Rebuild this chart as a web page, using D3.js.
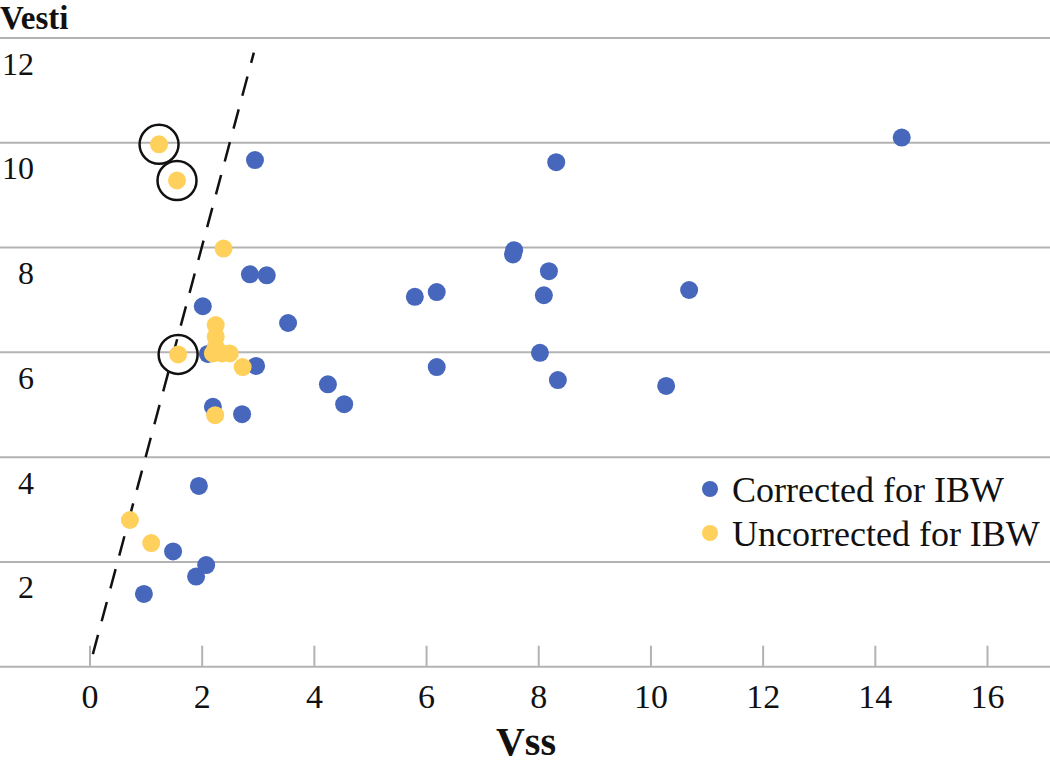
<!DOCTYPE html>
<html>
<head>
<meta charset="utf-8">
<script src="https://cdn.jsdelivr.net/npm/d3@7"></script>
<style>
  html, body { margin: 0; padding: 0; background: #fff; }
  svg { display: block; }
</style>
</head>
<body>
<svg id="chart" width="1050" height="764"></svg>
<script>
// ---- data ----
const xTicks = [0, 2, 4, 6, 8, 10, 12, 14, 16];
const yTicks = [2, 4, 6, 8, 10, 12];
const gridValues = [0, 2, 4, 6, 8, 10, 12];

const correctedX = [0.97, 1.49, 1.90, 2.08, 1.95, 2.20, 2.72, 2.11, 2.97, 2.02, 3.54, 2.86, 3.16, 2.95,
                    8.32, 7.57, 7.55, 8.19, 5.80, 6.19, 8.10, 10.69, 8.03, 6.19, 8.35, 10.28, 4.25, 4.54, 14.48];
const correctedY = [1.39, 2.20, 1.72, 1.94, 3.45, 4.96, 4.82, 5.97, 5.74, 6.88, 6.56, 7.49, 7.47, 9.67,
                    9.63, 7.95, 7.87, 7.55, 7.06, 7.15, 7.09, 7.19, 5.99, 5.72, 5.47, 5.36, 5.39, 5.01, 10.10];

const uncorrectedX = [1.24, 1.56, 2.39, 1.58, 2.25, 2.25, 2.25, 2.20, 2.36, 2.50, 2.73, 2.24, 0.72, 1.10];
const uncorrectedY = [9.97, 9.28, 7.98, 5.96, 6.52, 6.30, 6.10, 5.98, 5.98, 5.98, 5.72, 4.80, 2.80, 2.36];
const uncorrectedCircled = [true, true, false, true, false, false, false, false, false, false, false, false, false, false];

const refLineX = [0.06, 2.93];
const refLineY = [0.24, 11.72];

const seriesNames = ["Corrected for IBW", "Uncorrected for IBW"];
const seriesColors = ["#4667bb", "#ffd15c"];
const xTitle = "Vss";
const yTitle = "Vesti";

// ---- drawing ----
const svg = d3.select("#chart");
const W = 1050;
const x = d3.scaleLinear().domain([0, 16]).range([89.5, 987]);
const y = d3.scaleLinear().domain([0, 12]).range([666.7, 38]);
const gridColor = "#b3b3b3";
const serif = "'Liberation Serif', 'DejaVu Serif', serif";

// grid lines (including baseline)
svg.append("g").selectAll("line").data(gridValues).join("line")
  .attr("x1", 0).attr("x2", W)
  .attr("y1", d => y(d)).attr("y2", d => y(d))
  .attr("stroke", gridColor).attr("stroke-width", 2);

// x axis tick marks (upward) and labels
const xAxis = d3.axisBottom(x).tickValues(xTicks).tickSize(0).tickPadding(0).tickFormat(d3.format("d"));
const xg = svg.append("g").attr("transform", `translate(0,${y(0)})`).call(xAxis);
xg.select(".domain").remove();
xg.selectAll(".tick").append("line")
  .attr("y1", 0).attr("y2", -21)
  .attr("stroke", gridColor).attr("stroke-width", 2);
xg.selectAll(".tick text")
  .attr("y", 41).attr("dy", 0)
  .attr("font-family", serif).attr("font-size", 34).attr("fill", "#111");

// y axis labels (below their grid lines)
const yAxis = d3.axisLeft(y).tickValues(yTicks).tickSize(0).tickPadding(0).tickFormat(d3.format("d"));
const yg = svg.append("g").attr("transform", "translate(34,0)").call(yAxis);
yg.select(".domain").remove();
yg.selectAll(".tick text")
  .attr("x", 0).attr("dy", 0).attr("y", 36)
  .attr("text-anchor", "end")
  .attr("font-family", serif).attr("font-size", 32).attr("fill", "#111");

// axis titles
svg.append("text").attr("x", 0).attr("y", 29)
  .attr("font-family", serif).attr("font-weight", "bold").attr("font-size", 33)
  .attr("fill", "#111").text(yTitle);
svg.append("text").attr("x", 526).attr("y", 755).attr("text-anchor", "middle")
  .attr("font-family", serif).attr("font-weight", "bold").attr("font-size", 40)
  .attr("fill", "#111").text(xTitle);

// reference dashed line
const refData = refLineX.map((v, i) => [v, refLineY[i]]);
svg.append("path").datum(refData)
  .attr("d", d3.line().x(d => x(d[0])).y(d => y(d[1])))
  .attr("fill", "none").attr("stroke", "#111").attr("stroke-width", 2.5)
  .attr("stroke-dasharray", "20,14");

// series points
const corrected = correctedX.map((v, i) => ({ x: v, y: correctedY[i] }));
const uncorrected = uncorrectedX.map((v, i) => ({ x: v, y: uncorrectedY[i], c: uncorrectedCircled[i] }));

svg.append("g").selectAll("circle").data(corrected).join("circle")
  .attr("cx", d => x(d.x)).attr("cy", d => y(d.y)).attr("r", 9)
  .attr("fill", seriesColors[0]);
svg.append("g").selectAll("circle").data(uncorrected).join("circle")
  .attr("cx", d => x(d.x)).attr("cy", d => y(d.y)).attr("r", 9)
  .attr("fill", seriesColors[1]);

// annotation rings
svg.append("g").selectAll("circle").data(uncorrected.filter(d => d.c)).join("circle")
  .attr("cx", d => x(d.x)).attr("cy", d => y(d.y)).attr("r", 19.5)
  .attr("fill", "none").attr("stroke", "#111").attr("stroke-width", 2.5);

// legend
const leg = svg.append("g").selectAll("g").data(seriesNames).join("g")
  .attr("transform", (d, i) => `translate(710,${489 + i * 44})`);
leg.append("circle").attr("r", 8).attr("fill", (d, i) => seriesColors[i]);
leg.append("text").attr("x", 22).attr("y", 13)
  .attr("font-family", serif).attr("font-size", 36).attr("fill", "#111")
  .text(d => d);
</script>
</body>
</html>
